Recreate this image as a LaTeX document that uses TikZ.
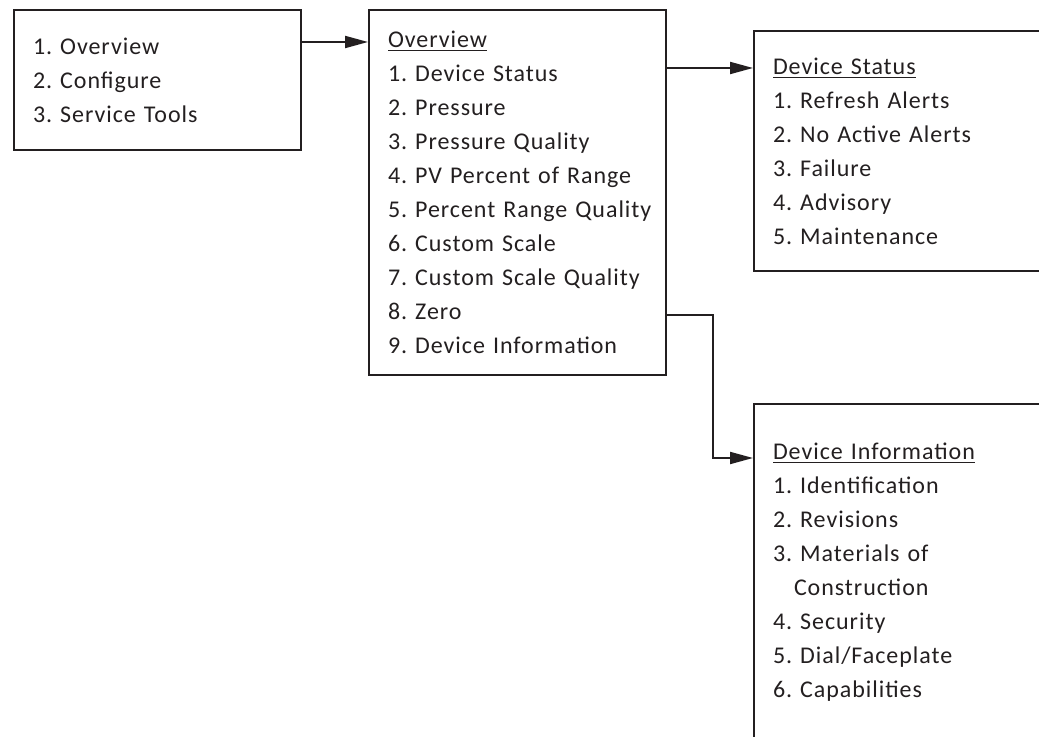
\documentclass[tikz,border=0pt]{standalone}
\usepackage{fontspec}
\setmainfont{Carlito}[LetterSpace=4]
\usetikzlibrary{arrows.meta, positioning, calc}
\definecolor{ink}{RGB}{35,31,32}

\tikzset{
  menu/.style={draw=ink, line width=1pt, text=ink, anchor=north west, align=left,
    inner xsep=9.5pt, inner ysep=0pt, font=\fontsize{12}{17}\selectfont\frenchspacing},
  link/.style={draw=ink, line width=1pt, -{Triangle[length=11.5pt,width=6pt]}}
}

\begin{document}
\begin{tikzpicture}[x=0.5pt, y=-0.5pt]
  \useasboundingbox (0,0) rectangle (1039,737);
  \clip (0,0) rectangle (1039,737);

  \node[menu, text width=124.5pt, minimum height=70pt] (root) at (13,9)
    {1. Overview\\2. Configure\\3. Service Tools};
  \node[menu, text width=129.5pt, minimum height=182.5pt] (overview) at (368,9)
    {\underline{Overview}\\1. Device Status\\2. Pressure\\3. Pressure Quality\\
     4. PV Percent of Range\\\mbox{5. Percent Range Quality}\\6. Custom Scale\\
     7. Custom Scale Quality\\8. Zero\\9. Device Information};
  \node[menu, text width=131pt, minimum height=120pt] (status) at (753,30)
    {\underline{Device Status}\\1. Refresh Alerts\\2. No Active Alerts\\
     3. Failure\\4. Advisory\\5. Maintenance};
  \node[menu, text width=131pt, minimum height=168pt] (info) at (753,403)
    {\underline{Device Information}\\1. Identification\\2. Revisions\\
     3. Materials of\\\hspace*{10.5pt}Construction\\4. Security\\
     5. Dial/Faceplate\\6. Capabilities};

  \coordinate (s1) at ([yshift=-16.5pt]root.north east);
  \coordinate (s2) at ([yshift=-29.5pt]overview.north east);
  \coordinate (s3) at ([yshift=30.5pt]overview.south east);
  \coordinate (t3) at ([yshift=-27.5pt]info.north west);

  \draw[link] (s1) -- (s1 -| overview.west);
  \draw[link] (s2) -- (s2 -| status.west);
  \draw[link] (s3) -- ++(23pt,0) |- (t3);
\end{tikzpicture}
\end{document}
